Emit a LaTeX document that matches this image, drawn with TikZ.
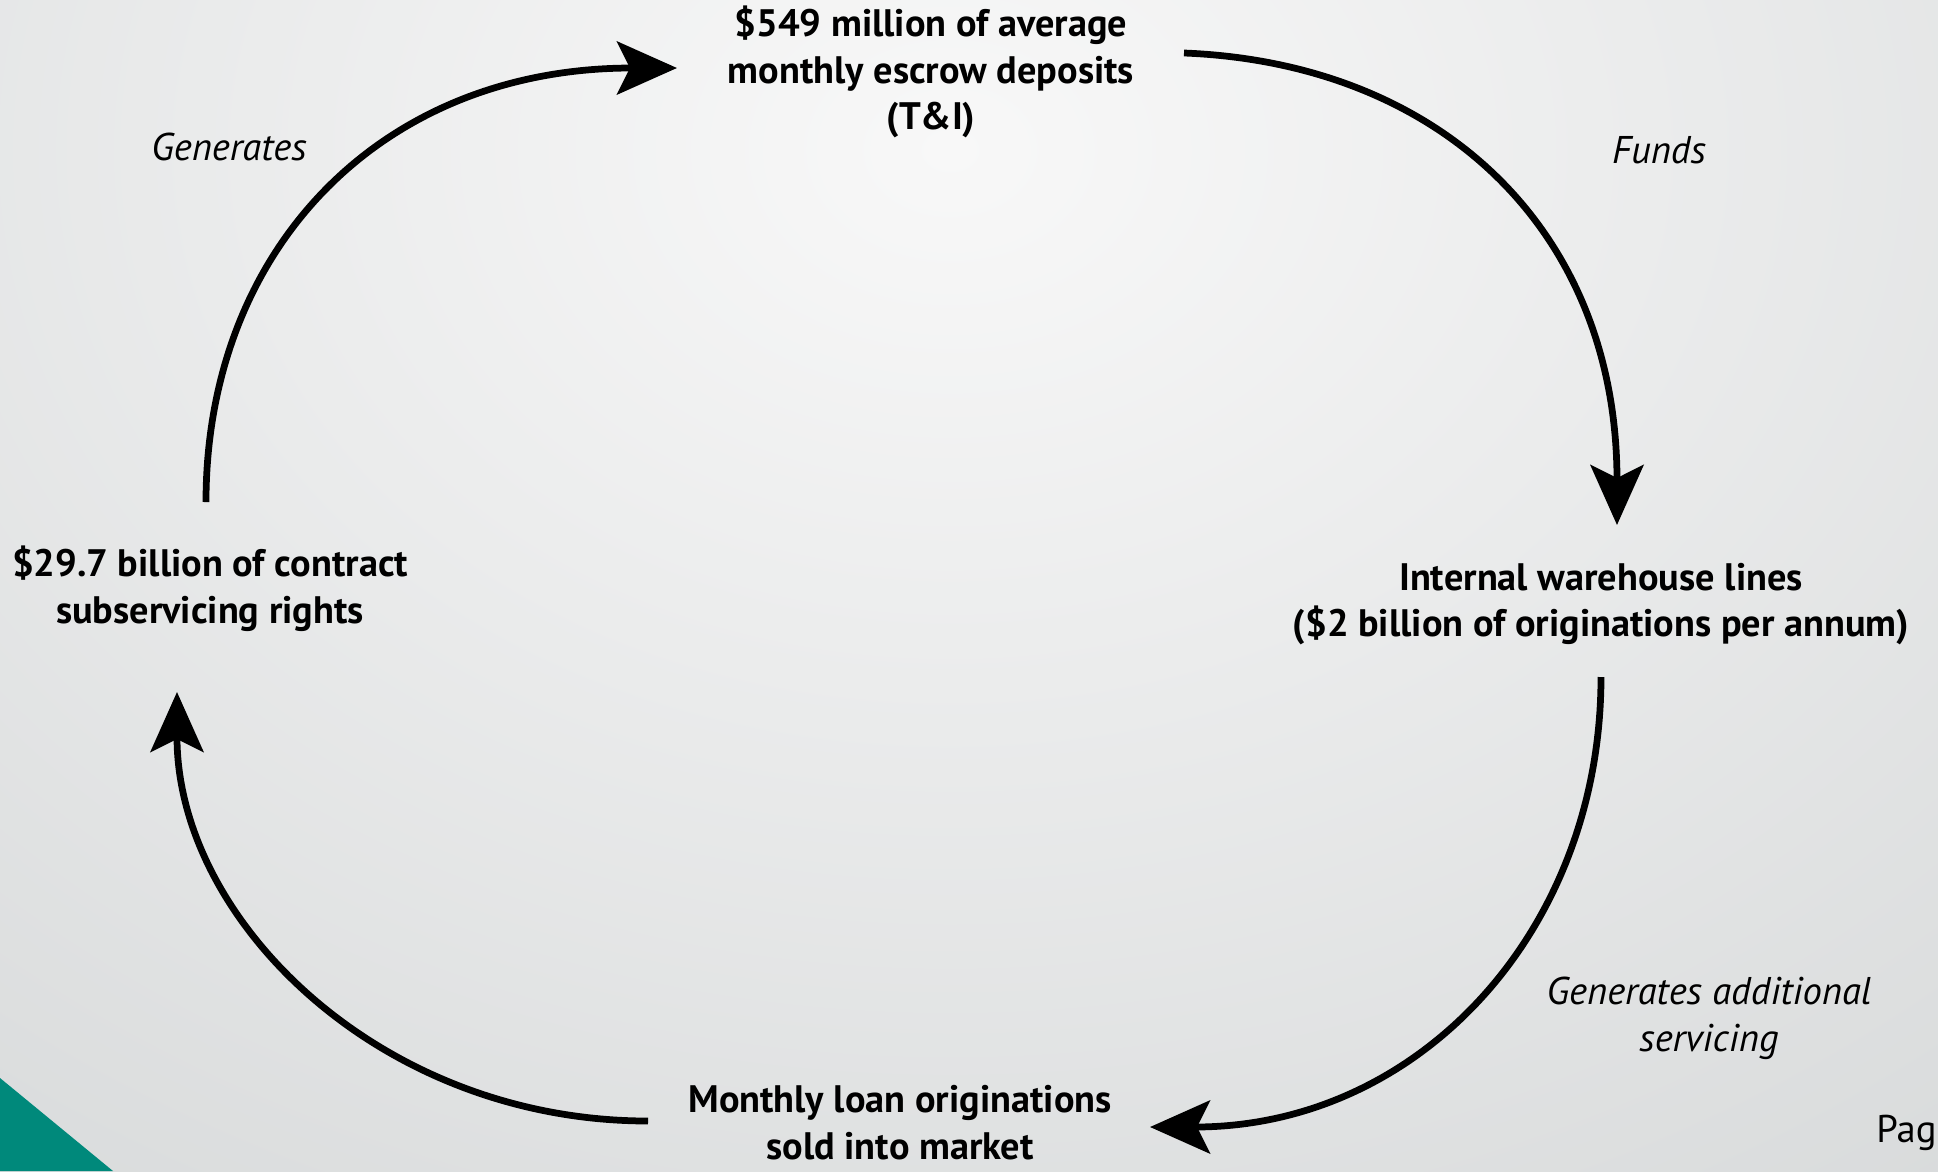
\documentclass[tikz,border=0pt]{standalone}
\usepackage{fontspec}
\setmainfont{PT Sans}
\usetikzlibrary{arrows.meta}
\definecolor{bgtop}{HTML}{F8F8F8}
\definecolor{bgout}{HTML}{C0C4C5}
\definecolor{teal}{HTML}{00897B}
\begin{document}
\begin{tikzpicture}[x=0.02cm,y=-0.02cm,
  box/.style={align=center,font=\fontsize{21.8}{26.6}\selectfont\bfseries,inner sep=0pt},
  lbl/.style={align=center,font=\fontsize{22}{26.6}\selectfont\itshape,inner sep=0pt},
  flow/.style={line width=0.135cm,-{Stealth[length=1.2cm,width=1.06cm,inset=0.26cm]}}]
\clip (0,0) rectangle (1938,1171);
\shade[inner color=bgtop,outer color=bgout] (950,150) ellipse (3000 and 2300);
\fill[teal] (0,1078) -- (113,1171) -- (0,1171) -- cycle;

\node[box] (top) at (931,72) {\$549 million of average\\monthly escrow deposits\\(T\&I)};
\node[box] (right) at (1601,604) {Internal warehouse lines\\(\$2 billion of originations per annum)};
\node[box] (left) at (210,589) {\$29.7 billion of contract\\subservicing rights};
\node[box] (bottom) at (900,1123) {Monthly loan originations\\sold into market};

\node[lbl] (l1) at (229,147) {Generates};
\node[lbl] (l2) at (1659,150) {Funds};
\node[lbl] (l3) at (1709,1018) {Generates additional\\servicing};
\node[font=\fontsize{22}{26}\selectfont,anchor=base west,inner sep=0pt] (pg) at (1876,1142) {Pag};

\coordinate (lftS) at (206,502);
\coordinate (topE) at (677,68);
\coordinate (topS) at (1184,53);
\coordinate (rgtE) at (1617,525);
\coordinate (rgtS) at (1601,677);
\coordinate (botE) at (1150,1127);
\coordinate (botS) at (648,1121);
\coordinate (lftE) at (177,692);

\draw[flow] (lftS) .. controls (206,250) and (380,68) .. (topE);
\draw[flow] (topS) .. controls (1440,63) and (1617,230) .. (rgtE);
\draw[flow] (rgtS) .. controls (1601,930) and (1420,1127) .. (botE);
\draw[flow] (botS) .. controls (380,1121) and (177,920) .. (lftE);
\end{tikzpicture}
\end{document}
